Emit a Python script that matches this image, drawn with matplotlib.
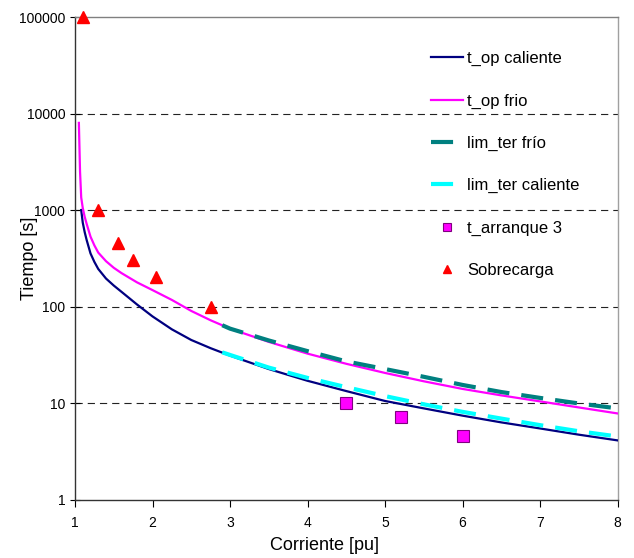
import matplotlib
matplotlib.use('Agg')
import matplotlib.pyplot as plt

plt.rcParams['font.family'] = ['Liberation Sans', 'DejaVu Sans']

# t_op frio (magenta)
x_frio = [1.05, 1.065, 1.08, 1.1, 1.125, 1.15, 1.2, 1.25, 1.3, 1.4, 1.5, 1.6, 1.8, 2.0, 2.25, 2.5, 2.75,
          3.0, 3.5, 4.0, 4.5, 5.0, 5.5, 6.0, 6.5, 7.0, 7.5, 8.0]
t_frio = [8000, 2500, 1350, 1050, 850, 720, 530, 430, 362, 295, 252, 222, 178, 148, 117, 90, 72,
          59, 43, 32.5, 25.5, 20.5, 16.8, 14.0, 12.0, 10.4, 9.0, 7.8]

# t_op caliente (navy)
x_cal = [1.08, 1.1, 1.125, 1.15, 1.2, 1.25, 1.3, 1.4, 1.5, 1.6, 1.8, 2.0, 2.25, 2.5, 2.75,
         3.0, 3.5, 4.0, 4.5, 5.0, 5.5, 6.0, 6.5, 7.0, 7.5, 8.0]
t_cal = [1000, 740, 590, 490, 355, 290, 245, 195, 165, 142, 105, 79, 58, 45, 37,
         31, 22.5, 17, 13.3, 10.5, 8.8, 7.4, 6.3, 5.45, 4.7, 4.1]

# limites termicos
x_lim = [2.9, 3.0, 3.5, 4.0, 4.5, 5.0, 5.5, 6.0, 6.5, 7.0, 7.5, 8.0]
lim_frio = [64, 59, 44.5, 34.5, 27, 22.5, 18.7, 15.4, 13.0, 11.3, 9.9, 8.8]
lim_cal = [33.5, 31.5, 23.3, 18.2, 14.6, 11.8, 9.7, 8.1, 6.9, 5.9, 5.1, 4.5]

# t_arranque 3
x_arr = [4.5, 5.2, 6.0]
t_arr = [9.9, 7.2, 4.5]

# Sobrecarga
x_sob = [1.1, 1.3, 1.55, 1.75, 2.05, 2.75]
t_sob = [100000, 1000, 450, 300, 200, 100]

fig = plt.figure(figsize=(6.34, 5.58), dpi=100)
ax = fig.add_axes([0.1183, 0.1048, 0.974 - 0.1183, 0.9695 - 0.1048])

ax.set_yscale('log')
ax.set_xlim(1, 8)
ax.set_ylim(1, 100000)

for yv in [10, 100, 1000, 10000]:
    ax.axhline(yv, color='#222222', lw=0.8, dashes=(6.5, 4.5), zorder=1)

ax.plot(x_cal, t_cal, color='#000080', lw=1.6, label='t_op caliente', zorder=3)
ax.plot(x_frio, t_frio, color='#ff00ff', lw=1.6, label='t_op frio', zorder=3)
ax.plot(x_lim, lim_frio, color='#008080', lw=3, dashes=(5.3, 2.9), label='lim_ter frío', zorder=4)
ax.plot(x_lim, lim_cal, color='#00ffff', lw=3, dashes=(5.3, 2.9), label='lim_ter caliente', zorder=4)
ax.plot(x_arr, t_arr, 's', color='#ff00ff', markeredgecolor='#800080', markeredgewidth=0.8,
        markersize=8, label='t_arranque 3', zorder=5)
ax.plot(x_sob, t_sob, '^', color='#ff0000', markersize=8, label='Sobrecarga', zorder=5,
        clip_on=False)

ax.set_xticks(range(1, 9))
ax.set_yticks([1, 10, 100, 1000, 10000, 100000])
ax.set_yticklabels(['1', '10', '100', '1000', '10000', '100000'])
ax.minorticks_off()
ax.tick_params(axis='both', labelsize=10, length=5, width=0.8, colors='black')
ax.tick_params(axis='x', pad=7)
ax.tick_params(axis='y', direction='inout', length=7)

ax.spines['left'].set_color('#333333')
ax.spines['bottom'].set_color('#333333')
ax.spines['top'].set_color('#808080')
ax.spines['right'].set_color('#a0a0a0')
for s in ax.spines.values():
    s.set_linewidth(1.0)

ax.set_xlabel('Corriente [pu]', fontsize=13)
ax.xaxis.set_label_coords(0.46, -0.078)
ax.set_ylabel('Tiempo [s]', fontsize=13)
ax.yaxis.set_label_coords(-0.068, 0.5)

leg = ax.legend(loc='upper left', bbox_to_anchor=(0.629, 0.96), frameon=False, fontsize=12,
                labelspacing=1.63, handlelength=1.9, handletextpad=0.25, markerscale=0.7)

fig.savefig('out.png', dpi=100)
